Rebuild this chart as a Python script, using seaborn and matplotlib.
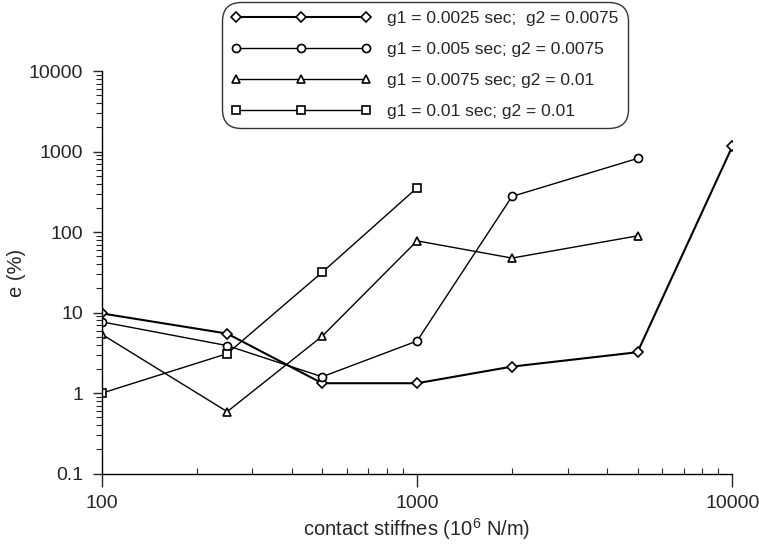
import numpy as np
import pandas as pd
import seaborn as sns
import matplotlib.pyplot as plt
from matplotlib.ticker import FuncFormatter, LogLocator

sns.set_style('ticks')
plt.rcParams['font.family'] = ['Liberation Sans', 'DejaVu Sans']
plt.rcParams['mathtext.fontset'] = 'custom'
plt.rcParams['mathtext.rm'] = 'Liberation Sans'
plt.rcParams['mathtext.it'] = 'Liberation Sans'

# contact stiffness values (10^6 N/m)
stiff_a = [100, 250, 500, 1000, 2000, 5000, 10000]
stiff_b = [100, 250, 500, 1000, 2000, 5000]
stiff_c = [100, 250, 500, 1000, 2000, 5000]
stiff_d = [100, 250, 500, 1000]

# error e (%)
err_a = [9.8, 5.5, 1.33, 1.33, 2.14, 3.23, 1170]
err_b = [7.7, 3.9, 1.6, 4.45, 278, 824]
err_c = [5.4, 0.59, 5.1, 78, 47.7, 90]
err_d = [1.0, 3.1, 31.7, 356]

labels = ['g1 = 0.0025 sec;  g2 = 0.0075',
          'g1 = 0.005 sec; g2 = 0.0075',
          'g1 = 0.0075 sec; g2 = 0.01',
          'g1 = 0.01 sec; g2 = 0.01']

series = [(stiff_a, err_a, 'D', 4.8, 1.5),
          (stiff_b, err_b, 'o', 5.8, 1.0),
          (stiff_c, err_c, '^', 6.0, 1.0),
          (stiff_d, err_d, 's', 5.5, 1.0)]

fig = plt.figure(figsize=(7.59, 5.56), dpi=100)
ax = fig.add_axes([0.134, 0.148, 0.831, 0.724])

for (xs, ys, mk, ms, lw), lab in zip(series, labels):
    df = pd.DataFrame({'x': xs, 'y': ys})
    sns.lineplot(data=df, x='x', y='y', ax=ax, color='black', lw=lw,
                 marker=mk, ms=ms, mfc='white', mec='black', mew=1.2,
                 label=lab, legend=False)

ax.set_xscale('log')
ax.set_yscale('log')
ax.set_xlim(100, 10000)
ax.set_ylim(0.1, 10000)
sns.despine(ax=ax)

fmt = FuncFormatter(lambda v, p: '%g' % v)
ax.xaxis.set_major_formatter(fmt)
ax.yaxis.set_major_formatter(fmt)
ax.yaxis.set_major_locator(LogLocator(base=10, numticks=10))
ax.yaxis.set_minor_locator(LogLocator(base=10, subs=np.arange(2, 10), numticks=10))

ax.tick_params(axis='x', which='major', direction='out', length=9, width=1, labelsize=14, pad=6)
ax.tick_params(axis='x', which='minor', direction='in', length=4, width=0.8)
ax.tick_params(axis='y', which='major', direction='out', length=6.5, width=1, labelsize=14, pad=7)
ax.tick_params(axis='y', which='minor', direction='out', length=4.5, width=0.8)
for s in ['left', 'bottom']:
    ax.spines[s].set_linewidth(1)
    ax.spines[s].set_color('black')

ax.set_xlabel('contact stiffnes (10$^6$ N/m)', fontsize=14.5, labelpad=3)
ax.set_ylabel('e (%)', fontsize=14.5, labelpad=2)

handles, labs = ax.get_legend_handles_labels()
leg = fig.legend(handles, labs, loc='upper left', bbox_to_anchor=(0.2925, 0.9964),
                 borderaxespad=0, numpoints=3, handlelength=8.1, handletextpad=0.93,
                 labelspacing=0.92, borderpad=0.5, fontsize=12.5,
                 frameon=True, fancybox=True, edgecolor='#333333', framealpha=1)
leg.get_frame().set_linewidth(1)
leg.get_frame().set_boxstyle('round,pad=0,rounding_size=1.1')

fig.savefig('out.png', dpi=100)
